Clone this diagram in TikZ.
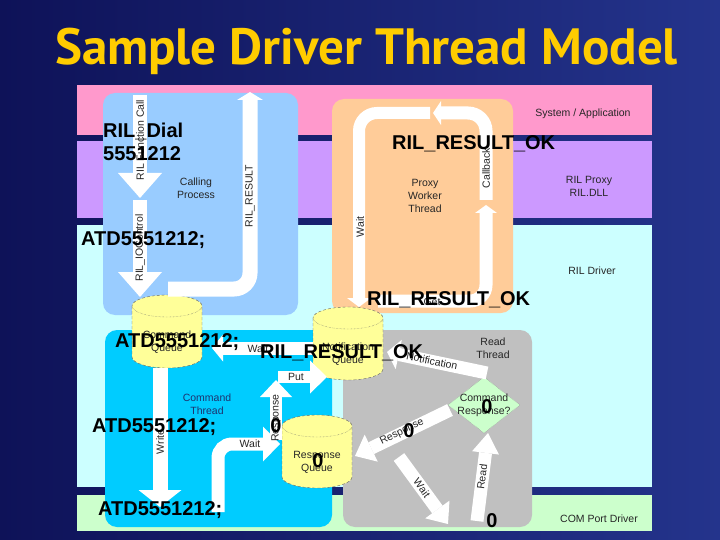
\documentclass[tikz,border=0pt]{standalone}
\usepackage{fontspec}
\setmainfont{Liberation Sans}
\newfontfamily\titlefont{PT Sans}
\usetikzlibrary{arrows.meta, shapes.geometric}
\definecolor{bgdark}{RGB}{14,18,88}
\definecolor{bglite}{RGB}{36,52,140}
\definecolor{titleyel}{RGB}{255,204,0}
\definecolor{bandpink}{RGB}{255,153,204}
\definecolor{bandpurple}{RGB}{204,153,255}
\definecolor{bandcyan}{RGB}{204,255,255}
\definecolor{bandgreen}{RGB}{204,255,204}
\definecolor{callblue}{RGB}{153,204,255}
\definecolor{proxyorange}{RGB}{255,204,153}
\definecolor{cmdcyan}{RGB}{0,204,255}
\definecolor{readgray}{RGB}{192,192,192}
\definecolor{queueyel}{RGB}{255,255,153}
\definecolor{decgreen}{RGB}{204,255,204}
\definecolor{cmdtext}{RGB}{30,50,110}
\tikzset{
  lbl/.style={font=\fontsize{10.5}{13}\selectfont, text=black!85, align=center, inner sep=0pt},
  big/.style={font=\fontsize{20}{22}\selectfont\bfseries, text=black, inner sep=0pt},
  blk/.style n args={3}{white, line width=#1, -{Triangle[length=#2, width=#3, line width=0pt]}},
  area/.style={rounded corners=12pt},
  queue/.pic={
    \fill[queueyel] (-35,-25.5) -- (-35,25.5) arc[start angle=180, end angle=0, x radius=35, y radius=11]
      -- (35,-25.5) arc[start angle=0, end angle=-180, x radius=35, y radius=11] -- cycle;
    \draw[black!60, densely dashed, thin] (-35,-25.5) -- (-35,25.5) arc[start angle=180, end angle=0, x radius=35, y radius=11]
      -- (35,-25.5) arc[start angle=0, end angle=-180, x radius=35, y radius=11];
    \draw[black!60, densely dotted] (-35,-25.5) arc[start angle=180, end angle=0, x radius=35, y radius=11];
    \node[lbl] (-t) at (0,11) {#1};
  }
}
\begin{document}
\begin{tikzpicture}[x=1pt, y=-1pt]
  \useasboundingbox (0,0) rectangle (720,540);
  \shade[left color=bgdark, right color=bglite] (0,0) rectangle (720,540);
  \node[font=\titlefont\bfseries\fontsize{51}{55}\selectfont, text=titleyel, anchor=base] (title) at (366.5,65) {Sample Driver Thread Model};

  \fill[bandpink] (77,85) rectangle (652,135);
  \fill[bandpurple] (77,141) rectangle (652,218);
  \fill[bandcyan] (77,225) rectangle (652,487);
  \fill[bandgreen] (77,495) rectangle (652,531);
  \node[lbl] (sysapp) at (583,114) {System / Application};
  \node[lbl] (rilproxy) at (589,186.5) {RIL Proxy\\RIL.DLL};
  \node[lbl] (rildriver) at (592,271) {RIL Driver};
  \node[lbl] (comport) at (599,519) {COM Port Driver};

  \fill[callblue, area] (103,93) rectangle (298,315);
  \fill[proxyorange, area] (332,99) rectangle (513,313);
  \fill[cmdcyan, area] (105,330) rectangle (332,527);
  \fill[readgray, area] (343,330) rectangle (532,527);
  \node[lbl] (calling) at (196,188.5) {Calling\\Process};
  \node[lbl] (worker) at (425,196) {Proxy\\Worker\\Thread};
  \node[lbl, text=cmdtext] (cmdthread) at (207,404.5) {Command\\Thread};
  \node[lbl] (readthread) at (493,348) {Read\\Thread};

  \pic (cq) at (167,331.5) {queue={Command\\Queue}};
  \pic (nq) at (348,343.5) {queue={Notification\\Queue}};
  \pic (rq) at (317,451.5) {queue={Response\\Queue}};
  \filldraw[fill=decgreen, draw=black!45, densely dotted] (484,377) -- (520,405) -- (484,433) -- (448,405) -- cycle;
  \node[lbl] (cmdresp) at (484,405) {Command\\Response?};

  \foreach \n/\p in {fc0/{140,95}, fc1/{140,198}, io0/{140,200}, io1/{140,297},
      rr0/{168,289}, rrc/{250,289}, rr1/{250,92}, wp0/{430,113}, wpc/{359,113}, wp1/{359,307},
      cb0/{486,200}, cbc/{486,113}, cb1/{433,113}, gt0/{378,301}, gtc/{486,301}, gt1/{486,205},
      wr0/{160,368}, wr1/{160,507}, wc0/{218,512}, wcc/{218,444}, wc1/{280,444},
      ru0/{276,440}, ru1/{276,380}, pt0/{278,377}, pt1/{327,377}, wn0/{313,348}, wn1/{212,348},
      nt0/{487,373}, nt1/{387,352}, rs0/{450,410}, rs1/{355,456}, wt0/{399,457}, wt1/{448,524},
      rd0/{477,521}, rd1/{488,433}}
    \coordinate (\n) at (\p);

  \draw[blk={14pt}{25pt}{44pt}] (fc0) -- (fc1);
  \draw[blk={14pt}{25pt}{44pt}] (io0) -- (io1);
  \draw[blk={15pt}{8pt}{26pt}, rounded corners=16pt] (rr0) -- (rrc) -- (rr1);
  \draw[blk={12pt}{9pt}{24pt}, rounded corners=18pt] (wp0) -- (wpc) -- (wp1);
  \draw[blk={13pt}{8pt}{24pt}, rounded corners=18pt] (cb0) -- (cbc) -- (cb1);
  \draw[blk={13pt}{8pt}{22pt}, rounded corners=16pt] (gt0) -- (gtc) -- (gt1);
  \draw[blk={15pt}{17pt}{43pt}] (wr0) -- (wr1);
  \draw[blk={13pt}{17pt}{35pt}, rounded corners=14pt] (wc0) -- (wcc) -- (wc1);
  \draw[blk={12pt}{17pt}{32pt}] (ru0) -- (ru1);
  \draw[blk={12pt}{17pt}{33pt}] (pt0) -- (pt1);
  \draw[blk={13pt}{11pt}{27pt}] (wn0) -- (wn1);
  \draw[blk={13pt}{12pt}{30pt}] (nt0) -- (nt1);
  \draw[blk={13pt}{18pt}{30pt}] (rs0) -- (rs1);
  \draw[blk={13pt}{18pt}{30pt}] (wt0) -- (wt1);
  \draw[blk={13pt}{20pt}{27pt}] (rd0) -- (rd1);

  \node[lbl, rotate=90] (lfcall) at (140,140) {RIL Function Call};
  \node[lbl, rotate=90] (lioctl) at (140,248) {RIL\_IOControl};
  \node[lbl, rotate=90] (lresult) at (250,196) {RIL\_RESULT};
  \node[lbl, rotate=90] (lwaitp) at (360,227) {Wait};
  \node[lbl, rotate=90] (lcallb) at (486,168) {Callback};
  \node[lbl] (lget) at (432,302) {Get};
  \node[lbl, rotate=90] (lwrite) at (160,442) {Write};
  \node[lbl] (lwaitc) at (250,444) {Wait};
  \node[lbl, rotate=90] (lrespu) at (276,418) {Response};
  \node[lbl] (lput) at (296,377) {Put};
  \node[lbl] (lwaitn) at (258,349) {Wait};
  \node[lbl, rotate=-12] (lnotif) at (432,361) {Notification};
  \node[lbl, rotate=26] (lresp) at (402,432) {Response};
  \node[lbl, rotate=-54] (lwaitr) at (422,488) {Wait};
  \node[lbl, rotate=83] (lread) at (482,477) {Read};

  \node[big, anchor=base west] (dial) at (103,138) {RIL\_Dial};
  \node[big, anchor=base west] (number) at (103,161) {5551212};
  \node[big, anchor=base west] (ok1) at (392,150) {RIL\_RESULT\_OK};
  \node[big, anchor=base west] (atd1) at (81,245) {ATD5551212;};
  \node[big, anchor=base west] (ok2) at (367,305) {RIL\_RESULT\_OK};
  \node[big, anchor=base west] (atd2) at (115,347) {ATD5551212;};
  \node[big, anchor=base west] (ok3) at (260,358) {RIL\_RESULT\_OK};
  \node[big, anchor=base west] (atd3) at (92,432) {ATD5551212;};
  \node[big, anchor=base west] (atd4) at (98,515) {ATD5551212;};
  \foreach \i/\x/\y in {1/276/432, 2/409/437, 3/487/413, 4/318/467, 5/492/527}
    \node[big, anchor=base] (zero\i) at (\x,\y) {0};
\end{tikzpicture}
\end{document}
